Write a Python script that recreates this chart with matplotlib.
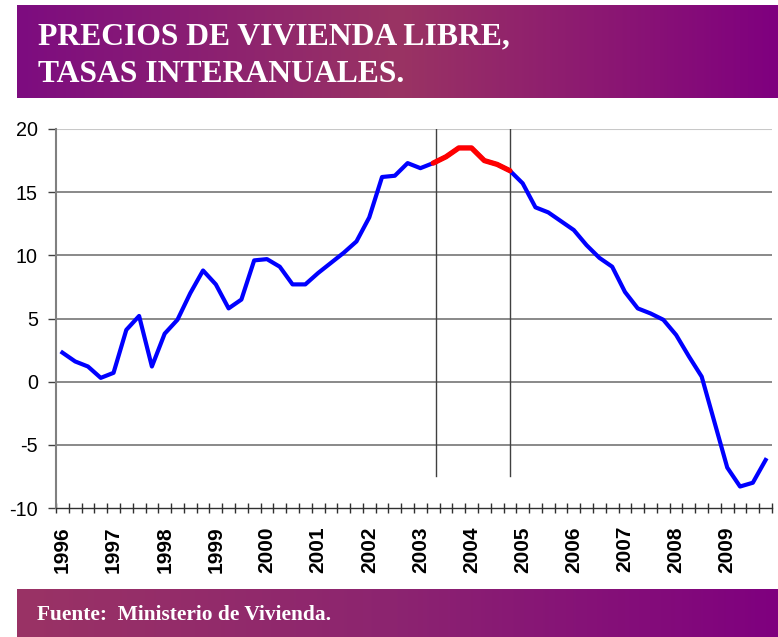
import numpy as np
import matplotlib
matplotlib.use('Agg')
import matplotlib.pyplot as plt
from matplotlib.colors import LinearSegmentedColormap

# Quarterly year-on-year change in free-market housing prices (%), 1996Q1-2009Q4
years = list(range(1996, 2010))
tasas = [2.3, 1.6, 1.2, 0.3, 0.7, 4.1, 5.2, 1.2,
         3.8, 4.9, 7.0, 8.8, 7.7, 5.8, 6.5, 9.6,
         9.7, 9.1, 7.7, 7.7, 8.6, 9.4, 10.2, 11.1,
         13.0, 16.2, 16.3, 17.3, 16.9, 17.3, 17.8, 18.5,
         18.5, 17.5, 17.2, 16.7, 15.7, 13.8, 13.4, 12.7,
         12.0, 10.8, 9.8, 9.1, 7.1, 5.8, 5.4, 4.9,
         3.7, 2.0, 0.4, -3.2, -6.8, -8.3, -8.0, -6.2]
red_start, red_end = 29, 35   # highlighted stretch (2003Q2 - 2004Q4)
vlines_at = [29.25, 35.0]

n = len(tasas)
x = np.arange(n)

plt.rcParams['font.family'] = ['Liberation Sans', 'DejaVu Sans']
fig = plt.figure(figsize=(7.78, 6.37), dpi=100)

# title banner and footer with horizontal gradients
banner_cmap = LinearSegmentedColormap.from_list('banner', ['#7d0c80', '#9a3463', '#7f007f'])
footer_cmap = LinearSegmentedColormap.from_list('footer', ['#9a3365', '#8c2470', '#7f007f'])
grad = np.linspace(0, 1, 256).reshape(1, -1)

bax = fig.add_axes([17/778, (637-98)/637, 761/778, 93/637])
bax.imshow(grad, aspect='auto', cmap=banner_cmap, extent=[0, 1, 0, 1])
bax.axis('off')
fax = fig.add_axes([17/778, 0, 761/778, 48/637])
fax.imshow(grad, aspect='auto', cmap=footer_cmap, extent=[0, 1, 0, 1])
fax.axis('off')

fig.text(38/778, 1 - 44/637, 'PRECIOS DE VIVIENDA LIBRE,', color='white',
         family='Liberation Serif', weight='bold', fontsize=22.8, va='baseline')
fig.text(38/778, 1 - 82/637, 'TASAS INTERANUALES.', color='white',
         family='Liberation Serif', weight='bold', fontsize=22.8, va='baseline')
fig.text(37/778, 1 - 620/637, 'Fuente:  Ministerio de Vivienda.', color='white',
         family='Liberation Serif', weight='bold', fontsize=15.4, va='baseline')

ax = fig.add_axes([56/778, 1 - 508/637, 716/778, 379/637])
ax.set_xlim(-0.5, n - 0.5)
ax.set_ylim(-10, 20)

for v in [-5, 0, 5, 10, 15]:
    ax.axhline(v, color='#808080', lw=1.3, zorder=1)
ax.axhline(20, color='#c8c8c8', lw=1.5, zorder=1)
for xv in vlines_at:
    ax.plot([xv, xv], [-7.5, 20], color='#404040', lw=1.0, zorder=1)

ax.plot(x, tasas, color='#0000ff', lw=3.0, zorder=3, solid_joinstyle='round')
ax.plot(x[red_start:red_end + 1], tasas[red_start:red_end + 1], color='#ff0000',
        lw=3.8, zorder=4, solid_capstyle='round', solid_joinstyle='round')

for s in ['top', 'right']:
    ax.spines[s].set_visible(False)
ax.spines['left'].set_color('#808080')
ax.spines['left'].set_linewidth(1.5)
ax.spines['bottom'].set_color('#303030')
ax.spines['bottom'].set_linewidth(1.0)

ax.set_yticks([-10, -5, 0, 5, 10, 15, 20])
ax.set_yticklabels(['-10', '-5', '0', '5', '10', '15', '20'], fontsize=14.2)
ax.tick_params(axis='y', direction='out', length=6, width=1, color='#404040', pad=7)

# ticks at quarter boundaries, year labels at each Q1
ax.set_xticks(np.arange(-0.5, n, 1.0))
ax.set_xticklabels([])
ax.tick_params(axis='x', which='major', direction='inout', length=7, width=1, color='#303030')
ax.set_xticks(np.arange(0, n, 4), minor=True)
ax.set_xticklabels([str(y) for y in years], minor=True, rotation=90,
                   fontsize=15, fontweight='bold', va='top')
ax.tick_params(axis='x', which='minor', length=0, pad=13)

fig.savefig('out.png', dpi=100)
